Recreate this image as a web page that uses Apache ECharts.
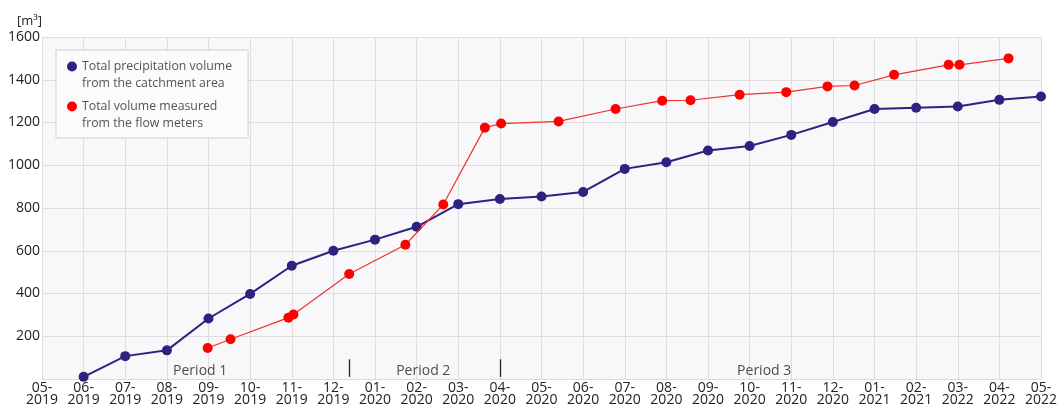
<!DOCTYPE html>
<html>
<head>
<meta charset="utf-8">
<script src="https://cdn.jsdelivr.net/npm/echarts@6/dist/echarts.min.js"></script>
<style>
  html, body { margin: 0; padding: 0; background: #ffffff; }
  #chart { width: 1060px; height: 405px; }
</style>
</head>
<body>
<div id="chart"></div>
<script>
// Month labels along the x axis (index 0 = first label)
const monthLabels = [
  '05-\n2019', '06-\n2019', '07-\n2019', '08-\n2019', '09-\n2019', '10-\n2019', '11-\n2019', '12-\n2019',
  '01-\n2020', '02-\n2020', '03-\n2020', '04-\n2020', '05-\n2020', '06-\n2020', '07-\n2020', '08-\n2020',
  '09-\n2020', '10-\n2020', '11-\n2020', '12-\n2020', '01-\n2021', '02-\n2021', '03-\n2022', '04-\n2022',
  '05-\n2022'
];

// Total precipitation volume from the catchment area: [month index, m3]
const precipMonths = [1, 2, 3, 4, 5, 6, 7, 8, 9, 10, 11, 12, 13, 14, 15, 16, 17, 18, 19, 20, 21, 22, 23, 24];
const precipValues = [10, 107, 134, 283, 398, 530, 600, 652, 712, 818, 842, 854, 875, 983, 1014, 1069, 1090, 1142, 1202, 1263, 1269, 1275, 1306, 1322];

// Total volume measured from the flow meters: [month index, m3]
const flowMonths = [3.98, 4.53, 5.92, 6.04, 7.38, 8.73, 9.64, 10.64, 11.03, 12.41, 13.78, 14.9, 15.58, 16.76, 17.88, 18.87, 19.52, 20.47, 21.78, 22.04, 23.22];
const flowValues = [145, 186, 287, 302, 491, 628, 816, 1176, 1195, 1205, 1263, 1302, 1304, 1330, 1342, 1369, 1373, 1423, 1470, 1470, 1500];

// Period labels and boundaries
const periodNames = ['Period 1', 'Period 2', 'Period 3'];
const periodCentres = [3.8, 9.16, 17.35];
const periodBounds = [7.38, 11.0];

const pairs = (xs, ys) => xs.map((x, i) => [x, ys[i]]);

const FONT = '"Open Sans", "Noto Sans", sans-serif';
// legend marker: a dot sitting on the first of two text lines
const DOT_ICON = 'path://M0,0 M10,34 M5,3.5 A5,5 0 1 1 5,13.5 A5,5 0 1 1 5,3.5 Z';

const chart = echarts.init(document.getElementById('chart'), null, { renderer: 'canvas' });

chart.setOption({
  animation: false,
  backgroundColor: '#ffffff',
  textStyle: { fontFamily: FONT },
  grid: {
    left: 42, right: 19, top: 37, bottom: 26,
    outerBoundsMode: 'none',
    containLabel: false,
    show: true, backgroundColor: '#f8f8fa', borderWidth: 0
  },
  legend: {
    left: 56, top: 50, orient: 'vertical',
    padding: [8, 16, 6, 11],
    itemGap: 6,
    itemWidth: 10, itemHeight: 34,
    backgroundColor: '#fbfbfc',
    borderColor: '#d0d0d0', borderWidth: 1,
    icon: DOT_ICON,
    textStyle: { fontFamily: FONT, fontSize: 12.3, color: '#555', lineHeight: 16.7 },
    data: [
      { name: 'Total precipitation volume\nfrom the catchment area' },
      { name: 'Total volume measured\nfrom the flow meters' }
    ]
  },
  xAxis: {
    type: 'value', min: 0, max: 24, interval: 1,
    axisLine: { show: true, lineStyle: { color: '#d9d9d9' } },
    axisTick: { show: false },
    splitLine: { show: true, lineStyle: { color: '#dedede', width: 1 } },
    axisLabel: {
      fontFamily: FONT, fontSize: 14, color: '#222', lineHeight: 12, margin: 3,
      formatter: v => monthLabels[Math.round(v)] || ''
    }
  },
  yAxis: {
    type: 'value', min: 0, max: 1600, interval: 200,
    name: '[m³]', nameLocation: 'end', nameGap: 9,
    nameTextStyle: { fontFamily: FONT, fontSize: 13, color: '#222', align: 'right' },
    axisLine: { show: false },
    axisTick: { show: false },
    splitLine: { show: true, lineStyle: { color: '#dedede', width: 1 } },
    axisLabel: {
      fontFamily: FONT, fontSize: 14, color: '#222', margin: 2,
      formatter: v => (v === 0 ? '' : String(v))
    }
  },
  series: [
    {
      name: 'Total precipitation volume\nfrom the catchment area',
      type: 'line',
      data: pairs(precipMonths, precipValues),
      symbol: 'circle', symbolSize: 10,
      itemStyle: { color: '#2c2280' },
      lineStyle: { color: '#2c2280', width: 2 },
      z: 3
    },
    {
      name: 'Total volume measured\nfrom the flow meters',
      type: 'line',
      data: pairs(flowMonths, flowValues),
      symbol: 'circle', symbolSize: 10,
      itemStyle: { color: '#ff0000' },
      lineStyle: { color: '#f03030', width: 1.2 },
      z: 4,
      markLine: {
        silent: true, symbol: 'none',
        label: { show: false },
        lineStyle: { color: '#222', width: 1.3, type: 'solid' },
        data: periodBounds.map(b => [{ coord: [b, 10] }, { coord: [b, 92] }])
      }
    },
    {
      name: 'periods',
      type: 'scatter',
      data: periodCentres.map((c, i) => ({ value: [c, 36], name: periodNames[i] })),
      symbolSize: 0,
      silent: true,
      label: {
        show: true, position: 'inside',
        formatter: p => p.name,
        fontFamily: FONT, fontSize: 14, color: '#222'
      },
      z: 5
    }
  ]
});
</script>
</body>
</html>
